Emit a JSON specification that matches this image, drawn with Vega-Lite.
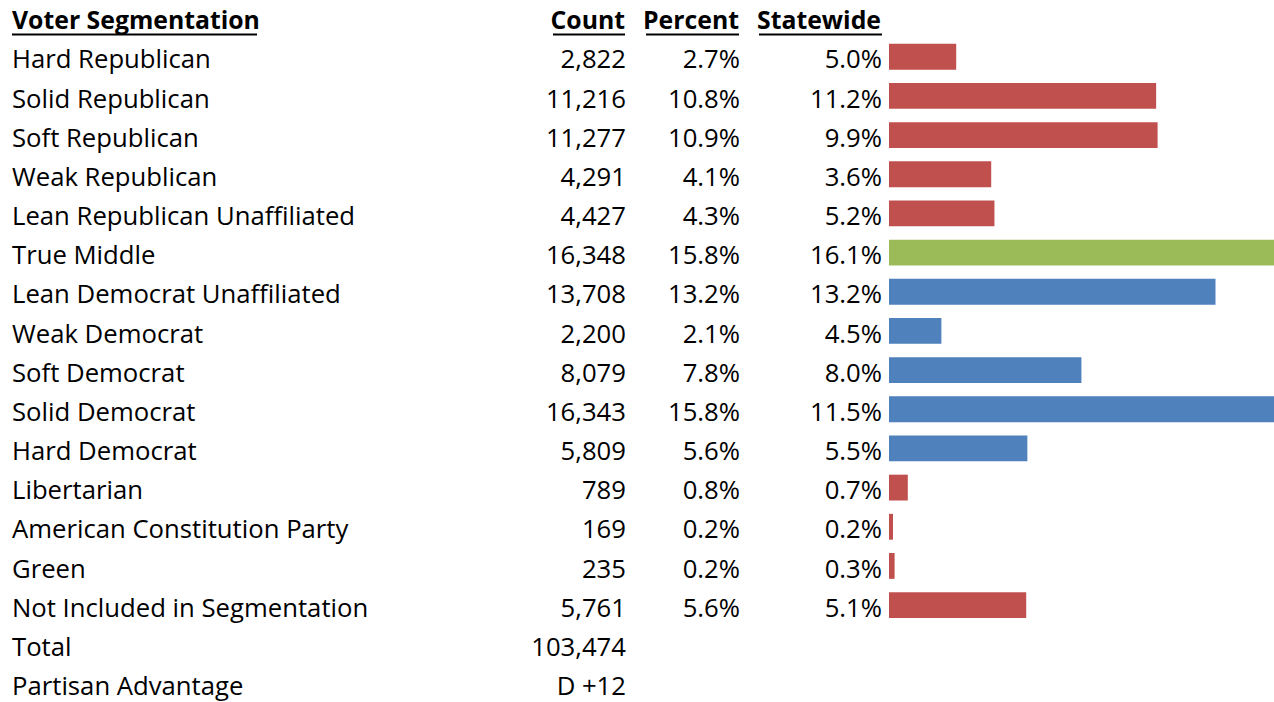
{
  "$schema": "https://vega.github.io/schema/vega-lite/v6.json",
  "width": 1274,
  "height": 705,
  "autosize": {"type": "none"},
  "padding": 0,
  "background": "white",
  "config": {"view": {"stroke": null}, "text": {"font": "Open Sans", "fontSize": 25.7, "color": "black", "baseline": "alphabetic", "dy": 11.6}},
  "datasets": {
    "rows": [
      {"segment": "Hard Republican", "count": 2822, "percent": 0.027, "statewide": 0.050, "group": "Republican"},
      {"segment": "Solid Republican", "count": 11216, "percent": 0.108, "statewide": 0.112, "group": "Republican"},
      {"segment": "Soft Republican", "count": 11277, "percent": 0.109, "statewide": 0.099, "group": "Republican"},
      {"segment": "Weak Republican", "count": 4291, "percent": 0.041, "statewide": 0.036, "group": "Republican"},
      {"segment": "Lean Republican Unaffiliated", "count": 4427, "percent": 0.043, "statewide": 0.052, "group": "Republican"},
      {"segment": "True Middle", "count": 16348, "percent": 0.158, "statewide": 0.161, "group": "Middle"},
      {"segment": "Lean Democrat Unaffiliated", "count": 13708, "percent": 0.132, "statewide": 0.132, "group": "Democrat"},
      {"segment": "Weak Democrat", "count": 2200, "percent": 0.021, "statewide": 0.045, "group": "Democrat"},
      {"segment": "Soft Democrat", "count": 8079, "percent": 0.078, "statewide": 0.080, "group": "Democrat"},
      {"segment": "Solid Democrat", "count": 16343, "percent": 0.158, "statewide": 0.115, "group": "Democrat"},
      {"segment": "Hard Democrat", "count": 5809, "percent": 0.056, "statewide": 0.055, "group": "Democrat"},
      {"segment": "Libertarian", "count": 789, "percent": 0.008, "statewide": 0.007, "group": "Other"},
      {"segment": "American Constitution Party", "count": 169, "percent": 0.002, "statewide": 0.002, "group": "Other"},
      {"segment": "Green", "count": 235, "percent": 0.002, "statewide": 0.003, "group": "Other"},
      {"segment": "Not Included in Segmentation", "count": 5761, "percent": 0.056, "statewide": 0.051, "group": "Other"},
      {"segment": "Total", "count": 103474},
      {"segment": "Partisan Advantage", "note": "D +12"}
    ]
  },
  "data": {"name": "rows"},
  "encoding": {
    "y": {
      "field": "segment", "type": "nominal", "axis": null,
      "scale": {
        "domain": ["Voter Segmentation", "Hard Republican", "Solid Republican", "Soft Republican", "Weak Republican", "Lean Republican Unaffiliated", "True Middle", "Lean Democrat Unaffiliated", "Weak Democrat", "Soft Democrat", "Solid Democrat", "Hard Democrat", "Libertarian", "American Constitution Party", "Green", "Not Included in Segmentation", "Total", "Partisan Advantage"],
        "range": [-2, 703],
        "paddingInner": 0.34,
        "paddingOuter": 0.17
      }
    }
  },
  "layer": [
    {
      "transform": [{"filter": "isValid(datum.group)"}],
      "mark": {"type": "bar", "clip": false},
      "encoding": {
        "x": {"field": "count", "type": "quantitative", "axis": null, "scale": {"domain": [0, 16164], "range": [889, 1274], "zero": true, "nice": false}},
        "color": {"field": "group", "type": "nominal", "legend": null, "scale": {"domain": ["Republican", "Middle", "Democrat", "Other"], "range": ["#C0504D", "#9BBB59", "#4F81BD", "#C0504D"]}}
      }
    },
    {
      "mark": {"type": "text", "align": "left"},
      "encoding": {"x": {"value": 12}, "text": {"field": "segment"}}
    },
    {
      "transform": [{"filter": "isValid(datum.count)"}],
      "mark": {"type": "text", "align": "right"},
      "encoding": {"x": {"value": 626}, "text": {"field": "count", "type": "quantitative", "format": ","}}
    },
    {
      "transform": [{"filter": "isValid(datum.note)"}],
      "mark": {"type": "text", "align": "right"},
      "encoding": {"x": {"value": 626}, "text": {"field": "note"}}
    },
    {
      "transform": [{"filter": "isValid(datum.percent)"}],
      "mark": {"type": "text", "align": "right"},
      "encoding": {"x": {"value": 740}, "text": {"field": "percent", "type": "quantitative", "format": ".1%"}}
    },
    {
      "transform": [{"filter": "isValid(datum.statewide)"}],
      "mark": {"type": "text", "align": "right"},
      "encoding": {"x": {"value": 882}, "text": {"field": "statewide", "type": "quantitative", "format": ".1%"}}
    },
    {
      "data": {"values": [{}]},
      "mark": {"type": "text", "align": "left", "fontWeight": "bold", "fontSize": 24.8},
      "encoding": {"x": {"value": 12}, "y": {"datum": "Voter Segmentation"}, "text": {"value": "Voter Segmentation"}}
    },
    {
      "data": {"values": [{}]},
      "mark": {"type": "text", "align": "right", "fontWeight": "bold", "fontSize": 24.8},
      "encoding": {"x": {"value": 625}, "y": {"datum": "Voter Segmentation"}, "text": {"value": "Count"}}
    },
    {
      "data": {"values": [{}]},
      "mark": {"type": "text", "align": "right", "fontWeight": "bold", "fontSize": 24.8},
      "encoding": {"x": {"value": 739}, "y": {"datum": "Voter Segmentation"}, "text": {"value": "Percent"}}
    },
    {
      "data": {"values": [{}]},
      "mark": {"type": "text", "align": "right", "fontWeight": "bold", "fontSize": 24.8},
      "encoding": {"x": {"value": 881}, "y": {"datum": "Voter Segmentation"}, "text": {"value": "Statewide"}}
    },
    {
      "data": {"values": [{}]},
      "mark": {"type": "rule", "strokeWidth": 2, "color": "black", "yOffset": 17},
      "encoding": {"x": {"value": 12}, "x2": {"value": 257}, "y": {"datum": "Voter Segmentation"}}
    },
    {
      "data": {"values": [{}]},
      "mark": {"type": "rule", "strokeWidth": 2, "color": "black", "yOffset": 17},
      "encoding": {"x": {"value": 553}, "x2": {"value": 625}, "y": {"datum": "Voter Segmentation"}}
    },
    {
      "data": {"values": [{}]},
      "mark": {"type": "rule", "strokeWidth": 2, "color": "black", "yOffset": 17},
      "encoding": {"x": {"value": 646}, "x2": {"value": 739}, "y": {"datum": "Voter Segmentation"}}
    },
    {
      "data": {"values": [{}]},
      "mark": {"type": "rule", "strokeWidth": 2, "color": "black", "yOffset": 17},
      "encoding": {"x": {"value": 759}, "x2": {"value": 882}, "y": {"datum": "Voter Segmentation"}}
    }
  ]
}
